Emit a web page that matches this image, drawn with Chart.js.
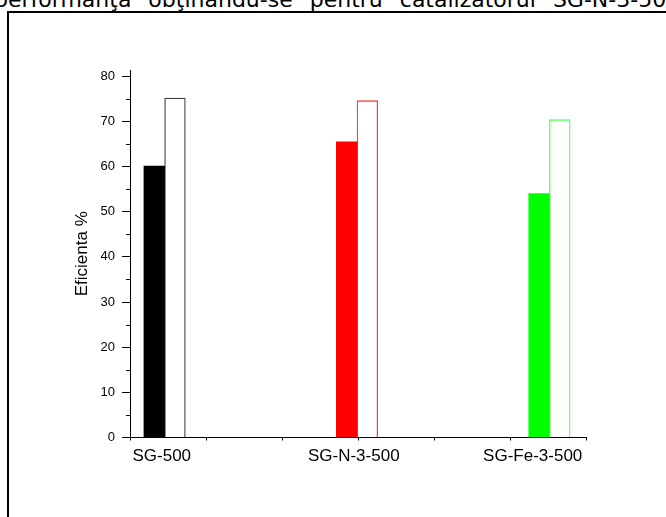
<!DOCTYPE html>
<html>
<head>
<meta charset="utf-8">
<script src="https://cdn.jsdelivr.net/npm/chart.js@4"></script>
<style>
    html, body { margin: 0; padding: 0; background: #fff; overflow: hidden; }
    body { width: 666px; height: 517px; position: relative; }
    #doc-text {
        position: absolute; left: -6px; top: -11px;
        font-family: 'DejaVu Sans', sans-serif; font-size: 22px; line-height: 22px;
        word-spacing: 10px; white-space: nowrap; color: #000;
    }
    #frame { position: absolute; left: 7px; top: 11px; width: 700px; height: 600px; border: 2px solid #000; }
    #chart-box { position: absolute; left: 0; top: 0; width: 666px; height: 517px; }
</style>
</head>
<body>
<div id="doc-text">performanţa obţinându-se pentru catalizatorul SG-N-3-500</div>
<div id="frame"></div>
<div id="chart-box"><canvas id="myChart" width="666" height="517"></canvas></div>

<script>
const categories = ['SG-500', 'SG-N-3-500', 'SG-Fe-3-500'];
const filledValues = [60.1, 65.5, 54.0];
const openValues = [75.2, 74.6, 70.4];
const yTickValues = [0, 10, 20, 30, 40, 50, 60, 70, 80];
const yMinorValues = [5, 15, 25, 35, 45, 55, 65, 75];

const filledColors = ['#000000', '#ff0000', '#00ff00'];
const openColors = ['#404040', '#ff3c3c', '#55ff55'];

// label nudges (in x units), the source had the labels placed by hand
const labelShift = [-0.015, -0.017, -0.087];

const X_MIN = 0.82;
const X_MAX = 3.19;

// ================================================================== minor ticks
const minorTicks = {
    id: 'minorTicks',
    afterDraw(chart) {
        let y = chart.scales.y;
        let ctx = chart.ctx;
        ctx.save();
        ctx.strokeStyle = '#000';
        ctx.lineWidth = 1;
        yMinorValues.forEach(v => {
            let py = Math.round(y.getPixelForValue(v)) + 0.5;
            ctx.beginPath();
            ctx.moveTo(y.right - 4, py);
            ctx.lineTo(y.right, py);
            ctx.stroke();
        });
        ctx.restore();
    }
};

function buildXTicks(scale) {
    let ticks = [];
    for (let k = 0; k <= 6; k++) {
        ticks.push({ value: X_MIN + k * (X_MAX - X_MIN) / 6, name: '' });
    }
    categories.forEach((c, i) => {
        ticks.push({ value: i + 1 + labelShift[i], name: c });
    });
    ticks.sort((a, b) => a.value - b.value);
    scale.ticks = ticks;
}

function tickMarkColor(ctx) {
    return ctx.tick && ctx.tick.name ? 'rgba(0,0,0,0)' : '#000';
}

// ================================================================== chart
function setChart() {
    let ctx = document.getElementById('myChart');

    new Chart(ctx, {
        type: 'bar',
        data: {
            datasets: [{
                data: categories.map((c, i) => ({ x: i + 1, y: filledValues[i] })),
                backgroundColor: filledColors,
                borderWidth: 0,
                barThickness: 20.7
            }, {
                data: categories.map((c, i) => ({ x: i + 1, y: openValues[i] })),
                backgroundColor: '#ffffff',
                borderColor: openColors,
                borderWidth: 1.3,
                borderSkipped: 'bottom',
                barThickness: 20.7
            }]
        },
        options: {
            responsive: false,
            animation: false,
            events: [],
            layout: {
                padding: { left: 66, top: 70, right: 80, bottom: 39.5 }
            },
            plugins: {
                legend: { display: false },
                tooltip: { enabled: false }
            },
            scales: {
                x: {
                    type: 'linear',
                    min: X_MIN,
                    max: X_MAX,
                    offset: false,
                    afterBuildTicks: buildXTicks,
                    afterFit: (scale) => { scale.height = 40; },
                    grid: {
                        offset: false,
                        drawOnChartArea: false,
                        tickLength: 3,
                        color: tickMarkColor,
                        tickColor: tickMarkColor
                    },
                    border: { display: true, color: '#000', width: 1 },
                    ticks: {
                        autoSkip: false,
                        maxRotation: 0,
                        padding: 6,
                        color: '#000',
                        font: { family: "'Liberation Sans', Arial, sans-serif", size: 17 },
                        callback: (value, index, ticks) => ticks[index].name || ''
                    }
                },
                y: {
                    min: 0,
                    max: 81.4,
                    afterBuildTicks: (scale) => {
                        scale.ticks = yTickValues.map(v => ({ value: v }));
                    },
                    afterFit: (scale) => { scale.width = 64; },
                    grid: {
                        drawOnChartArea: false,
                        tickLength: 8,
                        color: '#000',
                        tickColor: '#000'
                    },
                    border: { display: true, color: '#000', width: 1 },
                    ticks: {
                        padding: 7,
                        color: '#000',
                        font: { family: "'Liberation Sans', Arial, sans-serif", size: 13 }
                    },
                    title: {
                        display: true,
                        text: 'Eficienta %',
                        color: '#000',
                        padding: { top: 6, bottom: 0 },
                        font: { family: "'Liberation Sans', Arial, sans-serif", size: 17 }
                    }
                }
            }
        },
        plugins: [minorTicks]
    });
}

setChart();
</script>
</body>
</html>
